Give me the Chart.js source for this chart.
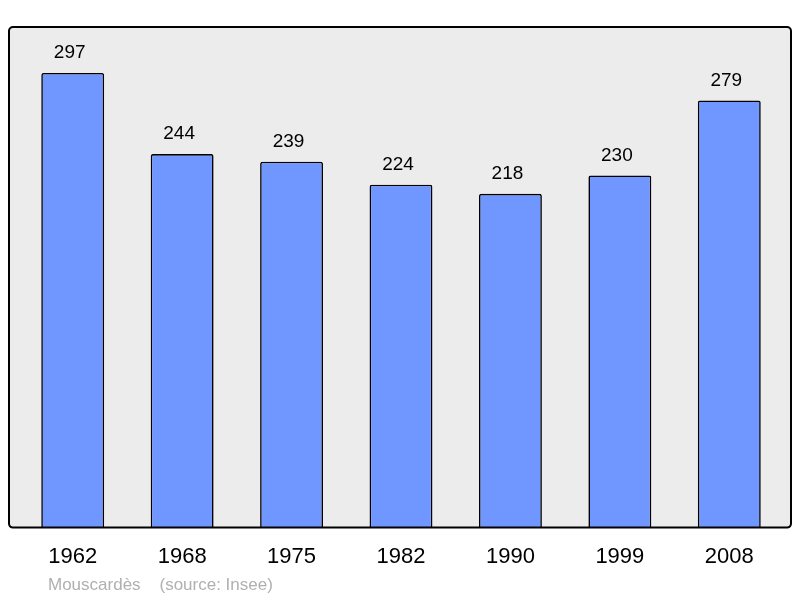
<!DOCTYPE html>
<html>
<head>
<meta charset="utf-8">
<script src="https://cdn.jsdelivr.net/npm/chart.js@4"></script>
<style>
  html, body { margin: 0; padding: 0; background: #fff; }
  #wrap { width: 800px; height: 598px; }
</style>
</head>
<body>
<div id="wrap"><canvas id="myChart"></canvas></div>
<script>
var years = ['1962', '1968', '1975', '1982', '1990', '1999', '2008'];
var population = [297, 244, 239, 224, 218, 230, 279];
var footerText = 'Mouscardès    (source: Insee)';

// gray panel behind the bars, border drawn after the bars
var panelPlugin = {
  id: 'panel',
  beforeDatasetsDraw: function(chart) {
    var ctx = chart.ctx, a = chart.chartArea;
    ctx.save();
    ctx.beginPath();
    ctx.roundRect(a.left - 9, a.top, a.right - a.left + 16, a.bottom - a.top, 4);
    ctx.fillStyle = '#ececec';
    ctx.fill();
    ctx.restore();
  },
  afterDatasetsDraw: function(chart) {
    var ctx = chart.ctx, a = chart.chartArea;
    ctx.save();
    ctx.beginPath();
    ctx.roundRect(a.left - 9, a.top, a.right - a.left + 16, a.bottom - a.top, 4);
    ctx.lineWidth = 2;
    ctx.strokeStyle = '#000';
    ctx.stroke();

    // value labels above bars
    var meta = chart.getDatasetMeta(0);
    ctx.fillStyle = '#000';
    ctx.font = '19px "Liberation Sans", Arial, sans-serif';
    ctx.textAlign = 'center';
    ctx.textBaseline = 'middle';
    meta.data.forEach(function(bar, i) {
      ctx.fillText(population[i], bar.x - 3, bar.y - 20);
    });

    // source line
    ctx.fillStyle = '#b0b0b0';
    ctx.font = '17px "Liberation Sans", Arial, sans-serif';
    ctx.textAlign = 'left';
    ctx.fillText(footerText, a.left + 30, 585);
    ctx.restore();
  }
};

var ctx = document.getElementById('myChart');
var myChart = new Chart(ctx, {
  type: 'bar',
  data: {
    labels: years,
    datasets: [{
      data: population,
      backgroundColor: '#7097ff',
      borderColor: '#000',
      borderWidth: 1.6,
      borderRadius: { topLeft: 2, topRight: 2 },
      borderSkipped: 'bottom',
      barPercentage: 0.575,
      categoryPercentage: 1
    }]
  },
  options: {
    responsive: true,
    maintainAspectRatio: false,
    animation: false,
    layout: { padding: { left: 18, right: 16, top: 27, bottom: 12 } },
    plugins: {
      legend: { display: false },
      tooltip: { enabled: false }
    },
    scales: {
      x: {
        grid: { display: false, drawTicks: false },
        border: { display: false },
        ticks: {
          color: '#000',
          padding: 16,
          font: { family: '"Liberation Sans", Arial, sans-serif', size: 22 }
        }
      },
      y: {
        display: false,
        min: 0,
        max: 327
      }
    }
  },
  plugins: [panelPlugin]
});
</script>
</body>
</html>
